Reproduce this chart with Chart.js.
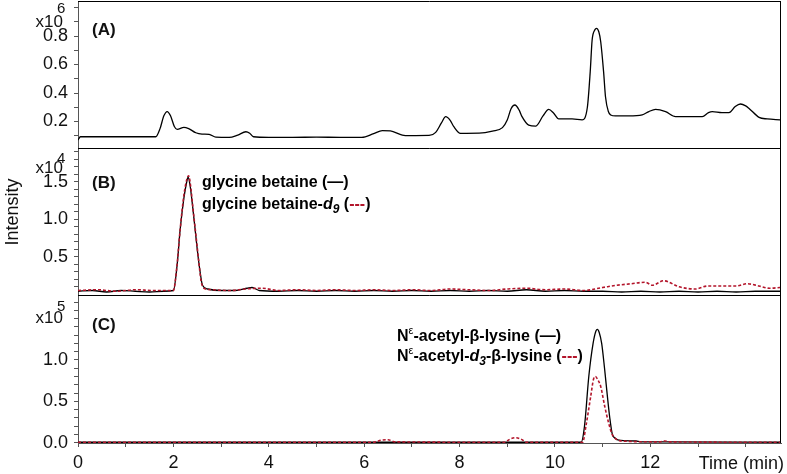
<!DOCTYPE html>
<html>
<head>
<meta charset="utf-8">
<script src="https://cdn.jsdelivr.net/npm/chart.js@4.4.1/dist/chart.umd.min.js"></script>
<style>
  html, body { margin:0; padding:0; background:#fff; }
</style>
</head>
<body>
<canvas id="chart" width="787" height="474"></canvas>
<script>
// (A) total ion chromatogram, x10^6
const timeA = [0, 0.05, 1.63, 1.72, 1.80, 1.87, 1.94, 2.02, 2.08, 2.22, 2.32, 2.47, 2.60, 2.75, 2.89, 3.17, 3.35, 3.52, 3.60, 3.68,
  4.0, 4.5, 5.0, 5.5, 5.95, 6.20, 6.38, 6.55, 6.80, 6.95, 7.36, 7.50, 7.62, 7.71, 7.80, 7.88, 8.02, 8.41, 8.69, 8.90,
  9.00, 9.08, 9.16, 9.25, 9.31, 9.45, 9.60, 9.75, 9.87, 9.97, 10.08, 10.36, 10.57, 10.68, 10.74, 10.78, 10.84, 10.87, 10.92, 10.96,
  11.02, 11.06, 11.12, 11.17, 11.27, 11.55, 11.83, 11.97, 12.11, 12.32, 12.53, 13.09, 13.22, 13.30, 13.50, 13.65, 13.78, 13.89, 14.00, 14.07,
  14.28, 14.45, 14.72];
const intensityA = [0.07, 0.093, 0.093, 0.15, 0.24, 0.27, 0.24, 0.165, 0.145, 0.159, 0.150, 0.121, 0.112, 0.110, 0.090, 0.088, 0.105, 0.128, 0.118, 0.093,
  0.089, 0.089, 0.090, 0.089, 0.089, 0.115, 0.136, 0.134, 0.105, 0.101, 0.102, 0.124, 0.19, 0.234, 0.21, 0.164, 0.117, 0.118, 0.133, 0.157,
  0.21, 0.29, 0.316, 0.28, 0.234, 0.175, 0.168, 0.24, 0.285, 0.26, 0.218, 0.218, 0.212, 0.30, 0.55, 0.772, 0.845, 0.854, 0.83, 0.76,
  0.55, 0.374, 0.27, 0.246, 0.239, 0.239, 0.246, 0.27, 0.285, 0.269, 0.234, 0.234, 0.262, 0.269, 0.262, 0.262, 0.305, 0.323, 0.31, 0.292,
  0.229, 0.218, 0.212];

// (B) glycine betaine, x10^4
const timeB = [0, 0.3, 0.6, 0.9, 1.2, 1.5, 1.8, 2.0, 2.08, 2.14, 2.22, 2.28, 2.31, 2.35, 2.40, 2.45, 2.50, 2.56, 2.61, 2.72,
  3.0, 3.3, 3.55, 3.65, 3.8, 4.2, 4.6, 5.0, 5.4, 5.8, 6.2, 6.6, 7.0, 7.4, 7.8, 8.2, 8.6, 9.0, 9.4, 9.8,
  10.2, 10.6, 11.0, 11.4, 11.8, 12.2, 12.6, 13.0, 13.4, 13.8, 14.2, 14.72];
const betaine = [0.04, 0.05, 0.03, 0.05, 0.04, 0.03, 0.04, 0.05, 0.40, 0.85, 1.28, 1.50, 1.56, 1.45, 1.19, 0.90, 0.60, 0.30, 0.12, 0.07,
  0.05, 0.05, 0.08, 0.09, 0.05, 0.04, 0.05, 0.04, 0.05, 0.04, 0.05, 0.04, 0.05, 0.04, 0.05, 0.04, 0.05, 0.04, 0.06, 0.04,
  0.05, 0.04, 0.04, 0.03, 0.04, 0.03, 0.04, 0.03, 0.04, 0.03, 0.04, 0.04];
const timeBd = [0, 0.4, 0.8, 1.2, 1.6, 2.0, 2.07, 2.14, 2.22, 2.29, 2.32, 2.36, 2.41, 2.47, 2.53, 2.58, 2.64, 2.8, 3.2, 3.5,
  3.86, 4.2, 4.6, 5.0, 5.4, 5.8, 6.2, 6.6, 7.0, 7.4, 7.8, 8.2, 8.6, 9.0, 9.4, 9.8, 10.2, 10.6, 11.0, 11.3,
  11.6, 11.9, 12.04, 12.28, 12.6, 12.95, 13.2, 13.44, 13.8, 14.03, 14.28, 14.5, 14.72];
const betaineD9 = [0.05, 0.06, 0.04, 0.06, 0.05, 0.05, 0.35, 0.85, 1.32, 1.55, 1.58, 1.45, 1.15, 0.80, 0.45, 0.18, 0.08, 0.06, 0.05, 0.07,
  0.08, 0.05, 0.06, 0.05, 0.06, 0.05, 0.06, 0.05, 0.06, 0.05, 0.07, 0.06, 0.05, 0.07, 0.08, 0.06, 0.07, 0.05, 0.09, 0.12,
  0.14, 0.16, 0.12, 0.18, 0.10, 0.07, 0.11, 0.11, 0.11, 0.14, 0.11, 0.08, 0.09];

// (C) N-epsilon-acetyl-beta-lysine, x10^5
const timeC = [0, 5.0, 10.55, 10.62, 10.71, 10.80, 10.86, 10.89, 10.93, 10.98, 11.04, 11.10, 11.15, 11.20, 11.27, 11.34, 11.7, 11.8, 12.3, 14.72];
const lysine = [0.005, 0.005, 0.005, 0.2, 0.80, 1.20, 1.35, 1.37, 1.33, 1.20, 0.90, 0.56, 0.30, 0.11, 0.05, 0.03, 0.02, 0.01, 0.01, 0.005];
const timeCd = [0, 6.2, 6.35, 6.5, 6.65, 8.95, 9.05, 9.18, 9.30, 9.40, 10.58, 10.65, 10.75, 10.81, 10.85, 10.90, 10.96, 11.04, 11.13, 11.20,
  11.27, 11.4, 12.2, 12.3, 12.4, 14.72];
const lysineD3 = [0.005, 0.005, 0.03, 0.035, 0.01, 0.005, 0.04, 0.06, 0.04, 0.005, 0.005, 0.2, 0.56, 0.77, 0.80, 0.76, 0.68, 0.45, 0.23, 0.10,
  0.05, 0.02, 0.01, 0.02, 0.01, 0.005];

// ticks
const xTicks = [0, 1, 2, 3, 4, 5, 6, 7, 8, 9, 10, 11, 12, 13, 14];
const xLabels = [0, 2, 4, 6, 8, 10, 12];
const ticksA = [0.1, 0.2, 0.3, 0.4, 0.5, 0.6, 0.7, 0.8, 0.9, 1.0];
const labelsA = [0.2, 0.4, 0.6, 0.8];
const ticksB = [0.1, 0.2, 0.3, 0.4, 0.5, 0.6, 0.7, 0.8, 0.9, 1.0, 1.1, 1.2, 1.3, 1.4, 1.5, 1.6, 1.7, 1.8, 1.9];
const labelsB = [0.5, 1.0, 1.5];
const ticksC = [0.0, 0.1, 0.2, 0.3, 0.4, 0.5, 0.6, 0.7, 0.8, 0.9, 1.0, 1.1, 1.2, 1.3, 1.4, 1.5, 1.6, 1.7];
const labelsC = [0.0, 0.5, 1.0];

const FONT = '"Liberation Sans", Arial, sans-serif';
const RED = '#b3152b';
const AXIS = '#555';

const zip = (xs, ys) => xs.map((x, i) => ({ x, y: ys[i] }));
const near = (arr, v) => arr.some(a => Math.abs(a - v) < 1e-6);

function panelScale(min, max, ticks, labels, weight) {
  return {
    type: 'linear', axis: 'y', position: 'left', stack: 'panels', stackWeight: weight,
    min, max,
    afterBuildTicks: s => { s.ticks = ticks.map(v => ({ value: v })); },
    afterFit: s => { s.width = 78; s.paddingTop = 0; s.paddingBottom = 0; },
    ticks: {
      autoSkip: false, padding: 6, color: '#111',
      font: { family: FONT, size: 18 },
      callback: v => near(labels, v) ? v.toFixed(1) : ''
    },
    grid: { drawOnChartArea: false, tickLength: 4, color: AXIS },
    border: { color: AXIS }
  };
}

const panels = [
  { id: 'yA', label: '(A)', exp: '6', labelDy: 29, expDy: 26, supDy: 12 },
  { id: 'yB', label: '(B)', exp: '4', labelDy: 35, expDy: 25, supDy: 15 },
  { id: 'yC', label: '(C)', exp: '5', labelDy: 30, expDy: 28, supDy: 16 }
];

const B = 'bold 16px ' + FONT;
const BI = 'italic bold 16px ' + FONT;
const BIs = 'italic bold 12px ' + FONT;
const Rs = '11px ' + FONT;
const notes = [
  { scale: 'yB', x: 2.6, y: 1.424, runs: [{ t: 'glycine betaine (' , f: B }, { t: '\u2014', f: B }, { t: ')', f: B }] },
  { scale: 'yB', x: 2.6, y: 1.131, runs: [{ t: 'glycine betaine-', f: B }, { t: 'd', f: BI }, { t: '9', f: BIs, dy: 4 }, { t: ' (', f: B },
      { t: '---', f: B, c: RED }, { t: ')', f: B }] },
  { scale: 'yC', x: 6.69, y: 1.23, runs: [{ t: 'N', f: B }, { t: '\u03b5', f: Rs, dy: -7 }, { t: '-acetyl-\u03b2-lysine (', f: B },
      { t: '\u2014', f: B }, { t: ')', f: B }] },
  { scale: 'yC', x: 6.69, y: 0.99, runs: [{ t: 'N', f: B }, { t: '\u03b5', f: Rs, dy: -7 }, { t: '-acetyl-', f: B }, { t: 'd', f: BI },
      { t: '3', f: BIs, dy: 4 }, { t: '-\u03b2-lysine (', f: B }, { t: '---', f: B, c: RED }, { t: ')', f: B }] }
];

const decorations = {
  id: 'decorations',
  beforeDatasetsDraw(chart) {
    const { ctx, chartArea } = chart;
    const r = Math.round(chartArea.right) - 0.5;
    ctx.save();
    ctx.strokeStyle = '#000';
    ctx.lineWidth = 1;
    ctx.beginPath();
    panels.forEach(p => {
      const s = chart.scales[p.id];
      if (p.id !== 'yC') {
        const yb = Math.round(s.bottom) + 0.5;
        ctx.moveTo(chartArea.left, yb); ctx.lineTo(r, yb);
      }
    });
    const yt = Math.round(chartArea.top) + 0.5;
    ctx.moveTo(chartArea.left, yt); ctx.lineTo(r, yt);
    ctx.moveTo(r, chartArea.top); ctx.lineTo(r, chartArea.bottom);
    ctx.stroke();
    ctx.restore();
  },
  afterDraw(chart) {
    const { ctx, chartArea } = chart;
    const xs = chart.scales.x;
    ctx.save();
    ctx.fillStyle = '#111';
    ctx.textBaseline = 'alphabetic';
    panels.forEach(p => {
      const s = chart.scales[p.id];
      ctx.font = '17px ' + FONT;
      ctx.textAlign = 'right';
      ctx.fillText('x10', 63, s.top + p.expDy);
      ctx.font = '15px ' + FONT;
      ctx.textAlign = 'left';
      ctx.fillText(p.exp, 57, s.top + p.supDy);
      ctx.font = 'bold 17px ' + FONT;
      ctx.textBaseline = 'middle';
      ctx.fillText(p.label, chartArea.left + 14, s.top + p.labelDy);
      ctx.textBaseline = 'alphabetic';
    });
    ctx.textAlign = 'left';
    notes.forEach(n => {
      let x = xs.getPixelForValue(n.x);
      const y = chart.scales[n.scale].getPixelForValue(n.y);
      n.runs.forEach(run => {
        ctx.font = run.f;
        ctx.fillStyle = run.c || '#000';
        ctx.fillText(run.t, x, y + (run.dy || 0));
        x += ctx.measureText(run.t).width;
      });
    });
    ctx.fillStyle = '#111';
    ctx.font = '18px ' + FONT;
    ctx.textAlign = 'right';
    ctx.fillText('Time (min)', chartArea.right + 3, xs.top + 26);
    ctx.translate(13, 212);
    ctx.rotate(-Math.PI / 2);
    ctx.textAlign = 'center';
    ctx.textBaseline = 'middle';
    ctx.fillText('Intensity', 0, 0);
    ctx.restore();
  }
};

const line = (pts, axis, dashed) => ({
  data: pts, yAxisID: axis,
  borderColor: dashed ? RED : '#000',
  borderWidth: dashed ? 1.6 : 1.3,
  borderDash: dashed ? [3, 2] : [],
  pointRadius: 0,
  cubicInterpolationMode: 'monotone'
});

new Chart(document.getElementById('chart'), {
  type: 'line',
  data: {
    datasets: [
      line(zip(timeA, intensityA), 'yA', false),
      line(zip(timeBd, betaineD9), 'yB', true),
      line(zip(timeB, betaine), 'yB', false),
      line(zip(timeCd, lysineD3), 'yC', true),
      line(zip(timeC, lysine), 'yC', false)
    ]
  },
  options: {
    responsive: false,
    animation: false,
    layout: { padding: { top: 1, right: 6, left: 0, bottom: 0 } },
    plugins: { legend: { display: false }, tooltip: { enabled: false } },
    scales: {
      x: {
        type: 'linear', position: 'bottom', min: 0, max: 14.74,
        afterBuildTicks: s => { s.ticks = xTicks.map(v => ({ value: v })); },
        afterFit: s => { s.height = 31; s.paddingLeft = 0; s.paddingRight = 0; },
        ticks: {
          autoSkip: false, maxRotation: 0, padding: 5, color: '#111',
          font: { family: FONT, size: 18 },
          callback: v => near(xLabels, v) ? String(v) : ''
        },
        grid: { drawOnChartArea: false, tickLength: 4, color: AXIS },
        border: { color: AXIS }
      },
      yC: panelScale(-0.004, 1.786, ticksC, labelsC, 148),
      yB: panelScale(-0.01, 1.95, ticksB, labelsB, 147),
      yA: panelScale(0.014, 1.046, ticksA, labelsA, 147)
    }
  },
  plugins: [decorations]
});
</script>
</body>
</html>
